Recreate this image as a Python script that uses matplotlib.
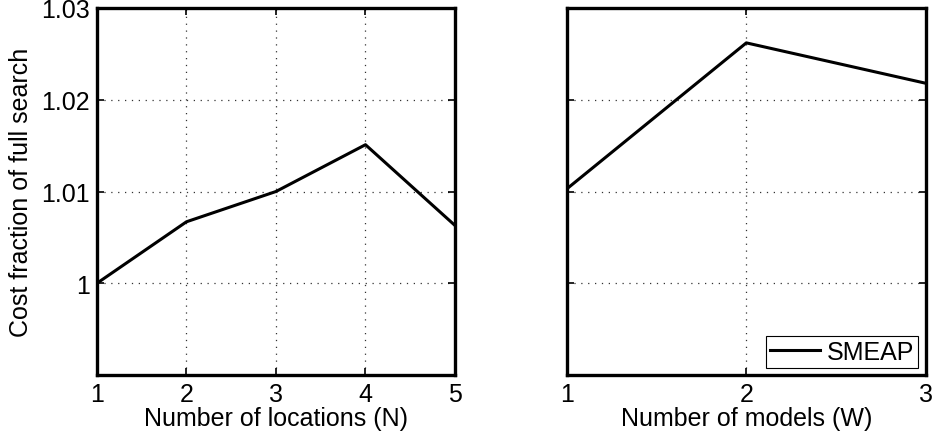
import matplotlib
matplotlib.use('Agg')
import matplotlib.pyplot as plt

plt.rcParams['font.family'] = ['Liberation Sans', 'DejaVu Sans']

# left panel: number of locations
locations = [1, 2, 3, 4, 5]
cost_locations = [1.0000, 1.0067, 1.0100, 1.0151, 1.0063]

# right panel: number of models
models = [1, 2, 3]
cost_models = [1.0103, 1.0262, 1.0218]

y_ticks = [1.0, 1.01, 1.02, 1.03]
y_ticklabels = ['1', '1.01', '1.02', '1.03']

fig = plt.figure(figsize=(9.35, 4.39), dpi=100)
ax1 = fig.add_axes([0.1037, 0.1435, 0.3829, 0.836])
ax2 = fig.add_axes([0.6064, 0.1435, 0.3836, 0.836])

def style(ax, xs):
    ax.set_ylim(0.99, 1.03)
    ax.set_xlim(xs[0], xs[-1])
    ax.set_xticks(xs)
    ax.set_yticks(y_ticks)
    ax.grid(True, linestyle=(0, (1, 4.5)), color='#333333', linewidth=0.9)
    ax.tick_params(direction='in', top=True, right=True, length=5, width=1.2,
                   labelsize=18, pad=5)
    for s in ax.spines.values():
        s.set_linewidth(2.4)

ax1.plot(locations, cost_locations, color='black', linewidth=2.2)
style(ax1, locations)
ax1.set_yticklabels(y_ticklabels)
ax1.set_xlabel('Number of locations (N)', fontsize=18, labelpad=0)
ax1.set_ylabel('Cost fraction of full search', fontsize=18, labelpad=6)

ax2.plot(models, cost_models, color='black', linewidth=2.2, label='SMEAP')
style(ax2, models)
ax2.set_yticklabels([])
ax2.set_xlabel('Number of models (W)', fontsize=18, labelpad=0)
leg = ax2.legend(loc='lower right', fontsize=18, fancybox=False, framealpha=1,
                 edgecolor='black', handlelength=2.0, handletextpad=0.3,
                 borderpad=0.15, borderaxespad=0.3)
leg.get_frame().set_linewidth(0.8)

fig.savefig('out.png', dpi=100)
